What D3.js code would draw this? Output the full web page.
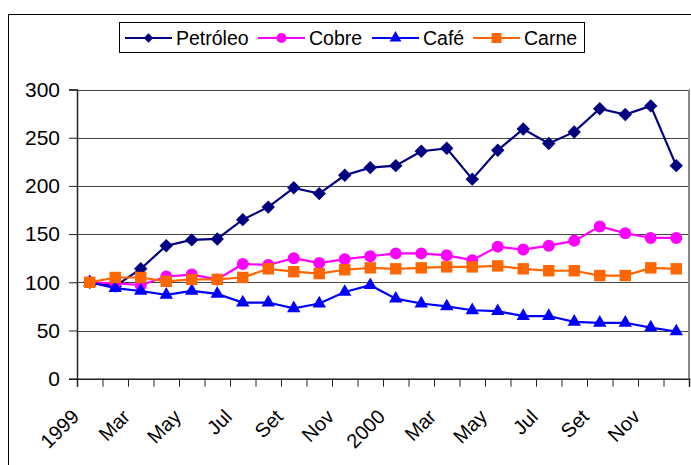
<!DOCTYPE html>
<html>
<head>
<meta charset="utf-8">
<script src="https://cdn.jsdelivr.net/npm/d3@7"></script>
<style>
  body { margin: 0; background: #fff; }
  svg { display: block; font-family: "Liberation Sans", Arial, sans-serif; }
</style>
</head>
<body>
<div id="chart"></div>
<script>
// Monthly index values, Jan 1999 = 100
const months = ["1999", "Feb", "Mar", "Abr", "May", "Jun", "Jul", "Ago", "Set", "Oct", "Nov", "Dic",
                "2000", "Feb", "Mar", "Abr", "May", "Jun", "Jul", "Ago", "Set", "Oct", "Nov", "Dic"];
const petroleo = [100, 96, 114, 138, 144, 145, 165, 178, 198, 192, 211, 219, 221, 236, 239, 207, 237, 259, 244, 256, 280, 274, 283, 221];
const cobre = [100, 99, 97, 106, 108, 103, 119, 118, 125, 120, 124, 127, 130, 130, 128, 123, 137, 134, 138, 143, 158, 151, 146, 146];
const cafe = [100, 94, 91, 87, 91, 88, 79, 79, 73, 78, 90, 97, 83, 78, 75, 71, 70, 65, 65, 59, 58, 58, 53, 49];
const carne = [100, 105, 105, 101, 103, 103, 105, 114, 111, 109, 113, 115, 114, 115, 116, 116, 117, 114, 112, 112, 107, 107, 115, 114];
const yTicks = [0, 50, 100, 150, 200, 250, 300];

const series = [
    { name: "Petróleo", values: petroleo, color: "#000080", marker: "diamond" },
    { name: "Cobre", values: cobre, color: "#FF00FF", marker: "circle" },
    { name: "Café", values: cafe, color: "#0000FF", marker: "triangle" },
    { name: "Carne", values: carne, color: "#FF6600", marker: "square" }
];

const WIDTH = 691, HEIGHT = 465;
const plot = { left: 77, right: 689, top: 89.5, bottom: 378.7 };

const svg = d3.select("#chart").append("svg")
    .attr("width", WIDTH)
    .attr("height", HEIGHT);

// outer chart frame (runs off the right/bottom edge like the original)
svg.append("rect")
    .attr("x", 8.5).attr("y", 14.5)
    .attr("width", 800).attr("height", 600)
    .attr("fill", "none")
    .attr("stroke", "#000")
    .attr("stroke-width", 1);

const xBand = d3.scaleBand()
    .domain(d3.range(months.length))
    .range([plot.left, plot.right]);
const cx = i => xBand(i) + xBand.bandwidth() / 2;

const xTick = d3.scaleLinear()
    .domain([0, months.length])
    .range([plot.left, plot.right]);

const yScale = d3.scaleLinear()
    .domain([0, 300])
    .range([plot.bottom, plot.top]);

// gridlines
svg.append("g")
    .selectAll("line")
    .data(yTicks.filter(d => d > 0))
    .join("line")
    .attr("x1", plot.left).attr("x2", plot.right)
    .attr("y1", d => Math.round(yScale(d)) + 0.5)
    .attr("y2", d => Math.round(yScale(d)) + 0.5)
    .attr("stroke", "#444");

// plot border on right side
svg.append("line")
    .attr("x1", plot.right).attr("x2", plot.right)
    .attr("y1", yScale(300)).attr("y2", yScale(0))
    .attr("stroke", "#888").attr("stroke-width", 2);

// y axis
const yAxis = svg.append("g")
    .attr("transform", `translate(${plot.left},0)`)
    .call(d3.axisLeft(yScale).tickValues(yTicks).tickSize(8).tickPadding(9));
yAxis.select(".domain").attr("stroke", "#222").attr("stroke-width", 1.5);
yAxis.selectAll(".tick line").attr("stroke", "#222");
yAxis.selectAll(".tick text")
    .attr("font-size", 21)
    .attr("font-family", "Liberation Sans, Arial, sans-serif")
    .attr("fill", "#000");

// x axis: ticks between months
const xAxis = svg.append("g")
    .attr("transform", `translate(0,${plot.bottom})`)
    .call(d3.axisBottom(xTick).tickValues(d3.range(months.length + 1)).tickSize(8).tickFormat(""));
xAxis.select(".domain").attr("stroke", "#222").attr("stroke-width", 1.5);
xAxis.selectAll(".tick line").attr("stroke", "#222");

// every second month label, rotated
svg.append("g")
    .selectAll("text")
    .data(months.map((m, i) => ({ m, i })).filter(d => d.i % 2 === 0))
    .join("text")
    .attr("transform", d => `translate(${cx(d.i) - 9.5},418) rotate(-45)`)
    .attr("text-anchor", "end")
    .attr("font-size", 20)
    .text(d => d.m);

const markerPath = (type, small) => {
    if (type === "diamond") return d3.symbol(d3.symbolSquare, small ? 45 : 90)();
    if (type === "circle") return d3.symbol(d3.symbolCircle, small ? 80 : 113)();
    if (type === "triangle") return d3.symbol(d3.symbolTriangle, small ? 62 : 78)();
    return d3.symbol(d3.symbolSquare, small ? 100 : 130)();
};
const markerRot = type => type === "diamond" ? " rotate(45)" : "";

const line = d3.line()
    .x((d, i) => cx(i))
    .y(d => yScale(d));

series.forEach(s => {
    const g = svg.append("g");
    g.append("path")
        .attr("d", line(s.values))
        .attr("fill", "none")
        .attr("stroke", s.color)
        .attr("stroke-width", 2.2);
    g.selectAll("path.marker")
        .data(s.values)
        .join("path")
        .attr("class", "marker")
        .attr("d", markerPath(s.marker, false))
        .attr("transform", (d, i) => `translate(${cx(i)},${yScale(d)})${markerRot(s.marker)}`)
        .attr("fill", s.color);
});

// legend
const legend = svg.append("g");
legend.append("rect")
    .attr("x", 119.5).attr("y", 22.5)
    .attr("width", 465).attr("height", 30)
    .attr("fill", "#fff")
    .attr("stroke", "#000");

const legendX = [125, 258, 372, 473];
series.forEach((s, k) => {
    const x0 = legendX[k];
    const item = legend.append("g");
    item.append("line")
        .attr("x1", x0).attr("x2", x0 + 47)
        .attr("y1", 38).attr("y2", 38)
        .attr("stroke", s.color).attr("stroke-width", 1.8);
    item.append("path")
        .attr("d", markerPath(s.marker, true))
        .attr("transform", `translate(${x0 + 23.5},38)${markerRot(s.marker)}`)
        .attr("fill", s.color);
    item.append("text")
        .attr("x", x0 + 51).attr("y", 44.7)
        .attr("font-size", 19.5)
        .text(s.name);
});
</script>
</body>
</html>
